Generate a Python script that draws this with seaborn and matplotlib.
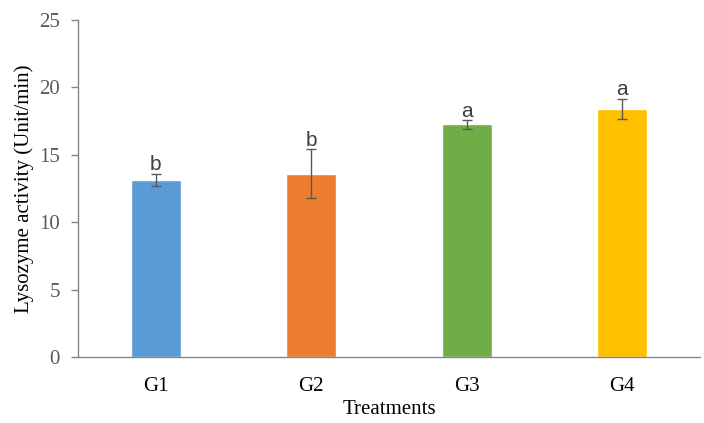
import matplotlib
matplotlib.use("Agg")
import matplotlib.pyplot as plt
import seaborn as sns
import pandas as pd
import numpy as np

groups = ["G1", "G2", "G3", "G4"]
means = [13.15, 13.6, 17.25, 18.4]
errors = [0.45, 1.8, 0.33, 0.75]
letters = ["b", "b", "a", "a"]
colors = ["#5B9BD5", "#ED7D31", "#70AD47", "#FFC000"]

sns.set_style("white")
plt.rcParams['font.family'] = ['Liberation Serif', 'DejaVu Serif']

df = pd.DataFrame({"Group": groups, "Value": means})

fig = plt.figure(figsize=(7.04, 4.23), dpi=100)
ax = fig.add_axes([0.111, 0.156, 0.883, 0.797])

sns.barplot(data=df, x="Group", y="Value", hue="Group", palette=colors,
            width=0.32, legend=False, ax=ax, errorbar=None, saturation=1)

xs = np.arange(len(groups))
ax.errorbar(xs, means, yerr=errors, fmt="none", ecolor="#595959",
            elinewidth=1.0, capsize=3.5, capthick=1.0)

for x, m, e, l in zip(xs, means, errors, letters):
    ax.text(x, m + e - 0.05, l, ha="center", va="bottom", fontsize=15,
            color="#404040", family=["Liberation Sans", "DejaVu Sans"])

ax.set_ylim(0, 25)
ax.set_yticks([0, 5, 10, 15, 20, 25])
ax.set_xlim(-0.5, 3.5)
ax.set_xlabel("Treatments", fontsize=15, color="black", labelpad=3)
ax.set_ylabel("Lysozyme activity (Unit/min)", fontsize=15, color="black", labelpad=4)

for s in ["top", "right"]:
    ax.spines[s].set_visible(False)
for s in ["left", "bottom"]:
    ax.spines[s].set_color("#868686")
    ax.spines[s].set_linewidth(1.0)

ax.tick_params(axis="y", which="both", left=True, length=5, width=1,
               color="#868686", labelsize=15, labelcolor="#595959", pad=8)
ax.tick_params(axis="x", bottom=False, labelsize=15, labelcolor="black", pad=11)

fig.savefig("out.png", dpi=100)
